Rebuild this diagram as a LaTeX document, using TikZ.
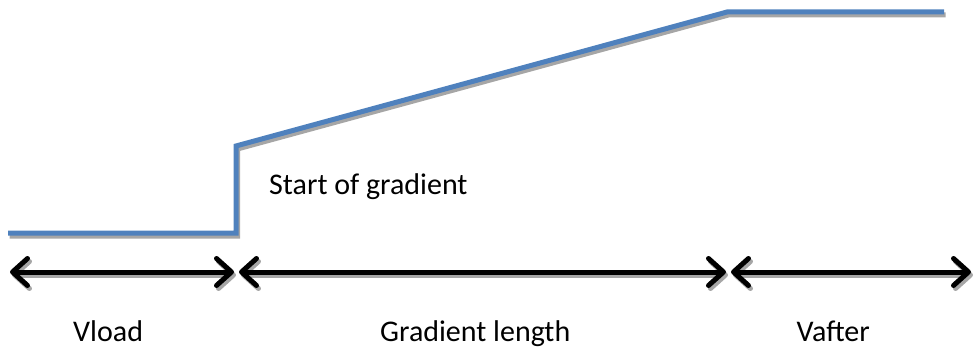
\documentclass[tikz,border=0pt]{standalone}
\usepackage{fontspec}
\setmainfont{Carlito}
\usetikzlibrary{arrows.meta}

\definecolor{linblue}{RGB}{79,129,189}
\tikzset{
  barb/.tip={Straight Barb[length=15pt,width=27pt,line cap=round,line join=round]},
  shade/.style={draw=gray!70},
  profile/.style={line width=5pt},
  span/.style={line width=5pt, barb-barb},
  lbl/.style={font=\fontsize{30}{34}\selectfont, inner sep=0pt}
}

\begin{document}
\begin{tikzpicture}[x=1pt,y=-1pt]
  \useasboundingbox (0,0) rectangle (975,350);
  % speed profile
  \coordinate (p0) at (8,233);
  \coordinate (p1) at (236,233);
  \coordinate (p2) at (236,146);
  \coordinate (p3) at (727,12);
  \coordinate (p4) at (944,12);
  \draw[profile, shade] ([shift={(1.5,3)}]p0) -- ([shift={(1.5,3)}]p1) -- ([shift={(1.5,3)}]p2) -- ([shift={(1.5,3)}]p3) -- ([shift={(1.5,3)}]p4);
  \draw[profile, draw=linblue] (p0) -- (p1) -- (p2) -- (p3) -- (p4);
  % spans
  \coordinate (a0) at (10,272);
  \coordinate (a1) at (234,272);
  \coordinate (a2) at (239,272);
  \coordinate (a3) at (726,272);
  \coordinate (a4) at (731,272);
  \coordinate (a5) at (971,272);
  \foreach \s/\e in {a0/a1,a2/a3,a4/a5}{
    \draw[span, shade] ([shift={(2,3)}]\s) -- ([shift={(2,3)}]\e);
    \draw[span, draw=black] (\s) -- (\e);
  }
  % labels
  \node[lbl, anchor=base west] (start) at (269,195) {Start of gradient};
  \node[lbl, anchor=base west] (vload) at (73,341) {Vload};
  \node[lbl, anchor=base west] (grad) at (380,341) {Gradient length};
  \node[lbl, anchor=base east] (vafter) at (870,341) {Vafter};
\end{tikzpicture}
\end{document}
